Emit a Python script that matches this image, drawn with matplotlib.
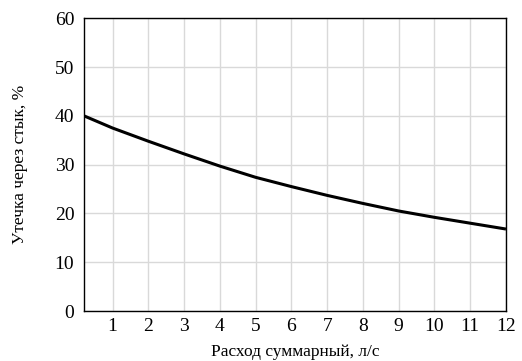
import matplotlib
matplotlib.use("Agg")
import matplotlib.pyplot as plt

flow = [0.2, 1, 2, 3, 4, 5, 6, 7, 8, 9, 10, 11, 12]
leak = [40.0, 37.5, 34.8, 32.2, 29.7, 27.4, 25.5, 23.7, 22.05, 20.5, 19.2, 18.0, 16.8]
xticks = [1, 2, 3, 4, 5, 6, 7, 8, 9, 10, 11, 12]
yticks = [0, 10, 20, 30, 40, 50, 60]

plt.rcParams['font.family'] = ['Liberation Serif', 'DejaVu Serif']

fig = plt.figure(figsize=(5.22, 3.61), dpi=100)
ax = fig.add_axes([0.161, 0.1385, 0.8083, 0.8108])
ax.plot(flow, leak, color='black', lw=2.2, solid_capstyle='butt', zorder=3)
ax.set_xlim(0.2, 12)
ax.set_ylim(0, 60)
ax.set_xticks(xticks)
ax.set_yticks(yticks)
ax.grid(True, color='#d9d9d9', lw=1.0)
ax.set_axisbelow(True)
ax.tick_params(axis='both', length=0, labelsize=14)
ax.tick_params(axis='y', pad=7)
ax.tick_params(axis='x', pad=5)
for s in ax.spines.values():
    s.set_color('black')
    s.set_linewidth(1.0)
ax.set_xlabel('Расход суммарный, л/с', fontsize=12.5)
ax.set_ylabel('Утечка через стык, %', fontsize=12.5)
ax.xaxis.label.set_va('baseline')
ax.yaxis.label.set_va('center')
ax.xaxis.set_label_coords(0.5, -0.155)
ax.yaxis.set_label_coords(-0.152, 0.5)
fig.savefig('out.png', dpi=100)
